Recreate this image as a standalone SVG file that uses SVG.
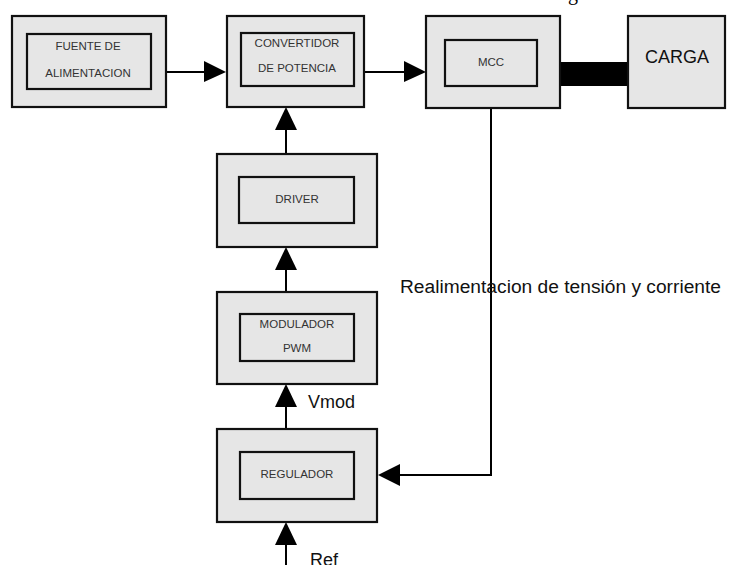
<svg xmlns="http://www.w3.org/2000/svg" width="735" height="565" viewBox="0 0 735 565">
<style>
.box{fill:#e6e6e6;stroke:#111;stroke-width:2.2}
.inner{fill:#e6e6e6;stroke:#111;stroke-width:2.2}
.lbl{font-family:"Liberation Sans",Arial,sans-serif;font-size:11.5px;fill:#333;text-anchor:middle}
.big{font-family:"Liberation Sans",Arial,sans-serif;font-size:18px;fill:#111}
.ln{stroke:#000;stroke-width:2;fill:none}
.ah{fill:#000}
</style>
<rect width="735" height="565" fill="#fff"/>
<text x="568" y="0" font-family="Liberation Serif,serif" font-size="20" fill="#000">g</text>
<g id="connectors">
<line class="ln" x1="166" y1="72" x2="206" y2="72"/>
<polygon class="ah" points="204,61 226,72 204,82"/>
<line class="ln" x1="364" y1="72" x2="406" y2="72"/>
<polygon class="ah" points="404,61 426,72 404,82"/>
<rect x="560" y="62" width="68" height="24" fill="#000"/>
<line class="ln" x1="286" y1="154" x2="286" y2="128"/>
<polygon class="ah" points="275,130 286,107 297,130"/>
<line class="ln" x1="286" y1="292" x2="286" y2="268"/>
<polygon class="ah" points="275,270 286,247 297,270"/>
<line class="ln" x1="286" y1="429" x2="286" y2="404"/>
<polygon class="ah" points="275,407 286,384 297,407"/>
<line class="ln" x1="286" y1="565" x2="286" y2="543"/>
<polygon class="ah" points="275,545 286,522 297,545"/>
<polyline class="ln" points="491,108 491,475 398,475"/>
<polygon class="ah" points="400,464 378,475 400,486"/>
<text class="big" x="400" y="293" font-size="18.8" textLength="321" lengthAdjust="spacingAndGlyphs">Realimentacion de tensión y corriente</text>
<text class="big" x="308" y="408">Vmod</text>
<text class="big" x="310" y="566">Ref</text>
</g>
<g id="fuente">
<rect class="box" x="12" y="16" width="154" height="91"/>
<rect class="inner" x="27" y="34" width="124" height="55"/>
<text class="lbl" x="88" y="50">FUENTE DE</text>
<text class="lbl" x="88" y="77">ALIMENTACION</text>
</g>
<g id="convertidor">
<rect class="box" x="227" y="16" width="137" height="91"/>
<rect class="inner" x="241" y="33" width="113" height="53"/>
<text class="lbl" x="297" y="47">CONVERTIDOR</text>
<text class="lbl" x="297" y="72">DE POTENCIA</text>
</g>
<g id="mcc">
<rect class="box" x="426" y="16" width="134" height="92"/>
<rect class="inner" x="445" y="40" width="92" height="46"/>
<text class="lbl" x="491" y="66">MCC</text>
</g>
<g id="carga">
<rect class="box" x="628" y="16" width="97" height="92"/>
<text class="big" x="677" y="63" text-anchor="middle">CARGA</text>
</g>
<g id="driver">
<rect class="box" x="217" y="154" width="160" height="93"/>
<rect class="inner" x="239" y="177" width="115" height="46"/>
<text class="lbl" x="297" y="203">DRIVER</text>
</g>
<g id="modulador">
<rect class="box" x="217" y="292" width="160" height="92"/>
<rect class="inner" x="240" y="314" width="114" height="47"/>
<text class="lbl" x="297" y="328">MODULADOR</text>
<text class="lbl" x="297" y="352">PWM</text>
</g>
<g id="regulador">
<rect class="box" x="217" y="429" width="160" height="93"/>
<rect class="inner" x="240" y="452" width="114" height="47"/>
<text class="lbl" x="297" y="478">REGULADOR</text>
</g>
</svg>
